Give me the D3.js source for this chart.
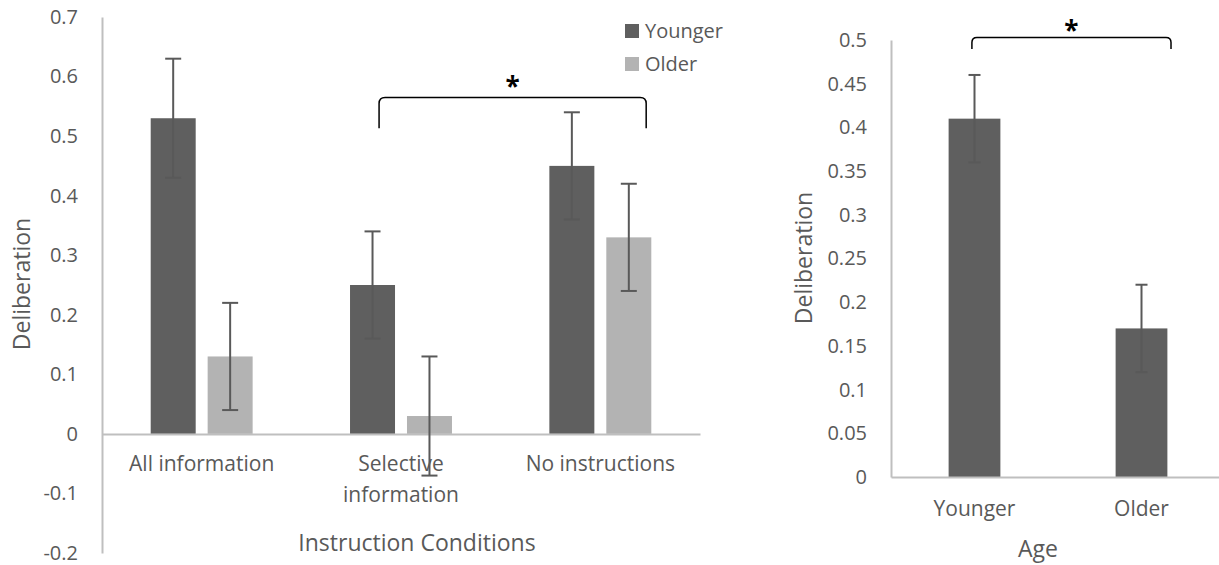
<!DOCTYPE html>
<html>
<head>
<meta charset="utf-8">
<script src="https://cdn.jsdelivr.net/npm/d3@7"></script>
<style>
  body { margin: 0; background: #fff; }
  svg text { font-family: "Open Sans", sans-serif; fill: #595959; }
</style>
</head>
<body>
<svg width="1219" height="565"></svg>
<script>
// ---- data ----
var categories = ["All information", "Selective information", "No instructions"];
var series = ["Younger", "Older"];
var youngerMeans = [0.53, 0.25, 0.45];
var youngerErr   = [0.10, 0.09, 0.09];
var olderMeans   = [0.13, 0.03, 0.33];
var olderErr     = [0.09, 0.10, 0.09];
var leftTicks = [-0.2, -0.1, 0, 0.1, 0.2, 0.3, 0.4, 0.5, 0.6, 0.7];

var ageGroups = ["Younger", "Older"];
var ageMeans  = [0.41, 0.17];
var ageErr    = [0.05, 0.05];
var rightTicks = [0, 0.05, 0.1, 0.15, 0.2, 0.25, 0.3, 0.35, 0.4, 0.45, 0.5];

var colors = {Younger: "#5f5f5f", Older: "#b3b3b3"};
var errColor = "#595959", axisColor = "#bfbfbf";

var svg = d3.select("svg");
var fmt = function(d) { return String(+d.toFixed(2)); };

// ================= left chart =================
var y = d3.scaleLinear().domain([-0.2, 0.7]).range([553, 17]);
var x0 = d3.scaleBand().domain(categories).range([102, 700]);
var x1 = d3.scaleBand().domain(series).range([0, x0.bandwidth()])
    .paddingInner(0.21).paddingOuter(0.855);

var rows = [];
categories.forEach(function(c, i) {
  rows.push({cat: c, s: "Younger", v: youngerMeans[i], e: youngerErr[i]});
  rows.push({cat: c, s: "Older", v: olderMeans[i], e: olderErr[i]});
});

var left = svg.append("g");

var yAxis = left.append("g")
    .attr("transform", "translate(102,0)")
    .call(d3.axisLeft(y).tickValues(leftTicks).tickFormat(fmt).tickSize(0).tickSizeOuter(0).tickPadding(24));
yAxis.select(".domain").attr("stroke", axisColor).attr("stroke-width", 2);
yAxis.selectAll("text").style("font-size", "20px").attr("fill", "#595959");

left.selectAll("rect.bar")
  .data(rows)
  .enter().append("rect")
    .attr("class", "bar")
    .attr("x", function(d) { return x0(d.cat) + x1(d.s); })
    .attr("width", x1.bandwidth())
    .attr("y", function(d) { return y(Math.max(0, d.v)); })
    .attr("height", function(d) { return Math.abs(y(d.v) - y(0)); })
    .attr("fill", function(d) { return colors[d.s]; });

var xAxis = left.append("g")
    .attr("transform", "translate(0," + y(0) + ")")
    .call(d3.axisBottom(x0).tickSize(0).tickSizeOuter(0));
xAxis.select(".domain").attr("stroke", axisColor).attr("stroke-width", 2);
xAxis.selectAll("text")
    .style("font-size", "21px")
    .attr("fill", "#595959")
    .attr("y", 37).attr("dy", 0)
    .each(function(d) {
      var t = d3.select(this);
      if (this.getComputedTextLength() > 175) {
        var words = d.split(" ");
        t.text(null);
        words.forEach(function(w, i) {
          t.append("tspan").attr("x", 0).attr("dy", i ? 31 : 0).text(w);
        });
      }
    });

function errorBars(g, data, xPos, yScale, cap) {
  var eb = g.selectAll(null).data(data).enter().append("g")
      .attr("stroke", errColor).attr("stroke-width", 2);
  eb.append("line")
      .attr("x1", xPos).attr("x2", xPos)
      .attr("y1", function(d) { return yScale(d.v + d.e); })
      .attr("y2", function(d) { return yScale(d.v - d.e); });
  [1, -1].forEach(function(sgn) {
    eb.append("line")
        .attr("x1", function(d) { return xPos(d) - cap / 2; })
        .attr("x2", function(d) { return xPos(d) + cap / 2; })
        .attr("y1", function(d) { return yScale(d.v + sgn * d.e); })
        .attr("y2", function(d) { return yScale(d.v + sgn * d.e); });
  });
}
errorBars(left, rows, function(d) { return x0(d.cat) + x1(d.s) + x1.bandwidth() / 2; }, y, 16);

// legend
var legend = left.selectAll(null).data(series).enter().append("g")
    .attr("transform", function(d, i) { return "translate(625," + (24 + i * 33) + ")"; });
legend.append("rect").attr("width", 14).attr("height", 14).attr("fill", function(d) { return colors[d]; });
legend.append("text").attr("x", 20).attr("y", 14).style("font-size", "20px").text(function(d) { return d; });

// axis titles
left.append("text")
    .attr("transform", "translate(30,284) rotate(-90)")
    .attr("text-anchor", "middle")
    .style("font-size", "23px")
    .text("Deliberation");
left.append("text")
    .attr("x", 417).attr("y", 551)
    .attr("text-anchor", "middle")
    .style("font-size", "23px")
    .text("Instruction Conditions");

function bracket(g, xa, xb, yTop, yLeg, r, starY) {
  g.append("path")
      .attr("d", "M" + xa + "," + yLeg + "L" + xa + "," + (yTop + r) +
                 "Q" + xa + "," + yTop + " " + (xa + r) + "," + yTop +
                 "L" + (xb - r) + "," + yTop +
                 "Q" + xb + "," + yTop + " " + xb + "," + (yTop + r) +
                 "L" + xb + "," + yLeg)
      .attr("fill", "none").attr("stroke", "#000").attr("stroke-width", 1.5);
  g.append("text")
      .attr("x", (xa + xb) / 2).attr("y", starY)
      .attr("text-anchor", "middle")
      .style("font-size", "26px").style("font-weight", "bold")
      .style("fill", "#000")
      .text("*");
}
bracket(left,
  x0(categories[1]) + x0.bandwidth() * 0.39,
  x0(categories[2]) + x0.bandwidth() * 0.73,
  y(0.565), y(0.513), 6, y(0.565) - 1);

// ================= right chart =================
var yr = d3.scaleLinear().domain([0, 0.5]).range([477, 40]);
var xr = d3.scaleBand().domain(ageGroups).range([891, 1225]).paddingInner(0.69).paddingOuter(0.345);

var ageRows = ageGroups.map(function(a, i) { return {cat: a, v: ageMeans[i], e: ageErr[i]}; });
var right = svg.append("g");

var yrAxis = right.append("g")
    .attr("transform", "translate(891,0)")
    .call(d3.axisLeft(yr).tickValues(rightTicks).tickFormat(fmt).tickSize(0).tickSizeOuter(0).tickPadding(24));
yrAxis.select(".domain").attr("stroke", axisColor).attr("stroke-width", 2);
yrAxis.selectAll("text").style("font-size", "20px").attr("fill", "#595959");

right.selectAll("rect.bar")
  .data(ageRows)
  .enter().append("rect")
    .attr("class", "bar")
    .attr("x", function(d) { return xr(d.cat); })
    .attr("width", xr.bandwidth())
    .attr("y", function(d) { return yr(d.v); })
    .attr("height", function(d) { return yr(0) - yr(d.v); })
    .attr("fill", colors.Younger);

var xrAxis = right.append("g")
    .attr("transform", "translate(0," + yr(0) + ")")
    .call(d3.axisBottom(xr).tickSize(0).tickSizeOuter(0));
xrAxis.select(".domain").attr("stroke", axisColor).attr("stroke-width", 2);
xrAxis.selectAll("text").style("font-size", "21px").attr("fill", "#595959").attr("y", 39).attr("dy", 0);

errorBars(right, ageRows, function(d) { return xr(d.cat) + xr.bandwidth() / 2; }, yr, 12);

right.append("text")
    .attr("transform", "translate(812,258) rotate(-90)")
    .attr("text-anchor", "middle")
    .style("font-size", "23px")
    .text("Deliberation");
right.append("text")
    .attr("x", 1038).attr("y", 557)
    .attr("text-anchor", "middle")
    .style("font-size", "23px")
    .text("Age");

bracket(right,
  xr(ageGroups[0]) + xr.bandwidth() * 0.45,
  xr(ageGroups[1]) + xr.bandwidth() * 1.07,
  yr(0.503), yr(0.4897), 5, yr(0.503) + 3);
</script>
</body>
</html>
